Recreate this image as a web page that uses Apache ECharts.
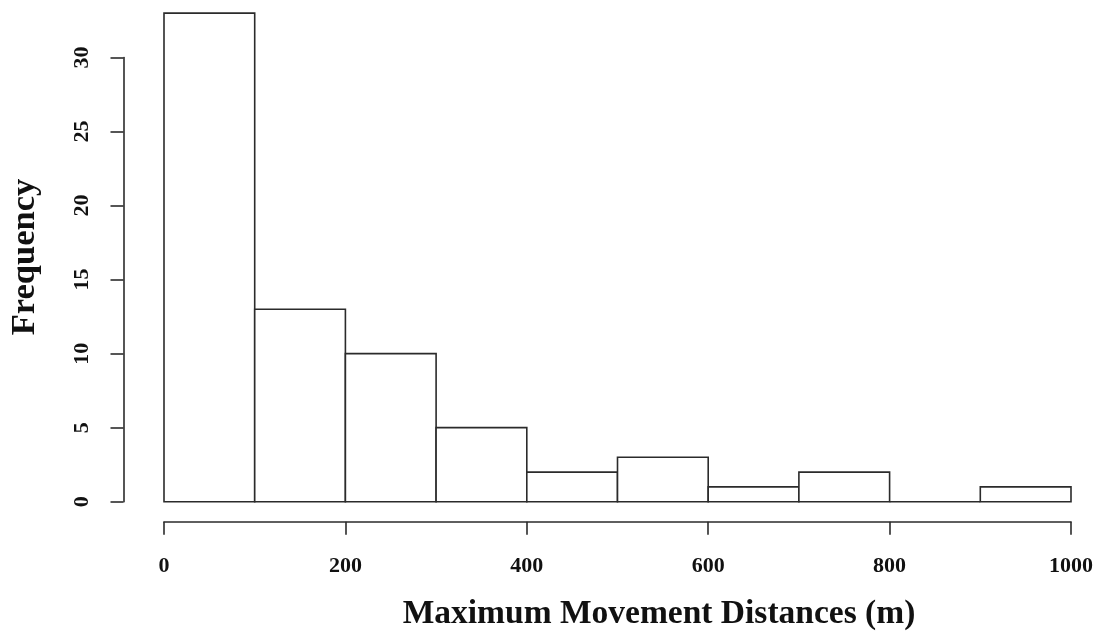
<!DOCTYPE html>
<html>
<head>
    <meta charset="utf-8">
    <script src="https://cdn.jsdelivr.net/npm/echarts@6/dist/echarts.min.js"></script>
</head>
<body style="margin:0">
    <div id="chart" style="width:1097px;height:637px"></div>
<script>
// histogram bins (m) and counts
const binStart = [0, 100, 200, 300, 400, 500, 600, 700, 800, 900];
const binEnd = [100, 200, 300, 400, 500, 600, 700, 800, 900, 1000];
const counts = [33, 13, 10, 5, 2, 3, 1, 2, 0, 1];
const xTitle = 'Maximum Movement Distances (m)';
const yTitle = 'Frequency';

const serif = "'Liberation Serif', 'DejaVu Serif', serif";
const ink = '#2b2b2b';

var data = binStart.map(function (s, i) { return [s, binEnd[i], counts[i]]; });

var option = {
    backgroundColor: '#fff',
    animation: false,
    grid: { left: 164, right: 26, top: 57.5, bottom: 135.3 },
    xAxis: {
        type: 'value',
        min: 0, max: 1000, interval: 200,
        offset: 20,
        splitLine: { show: false },
        axisLine: { show: true, onZero: false, lineStyle: { color: ink, width: 1.6 } },
        axisTick: { show: true, length: 13, lineStyle: { color: ink, width: 1.6 } },
        axisLabel: { margin: 34, fontSize: 22, fontWeight: 'bold', fontFamily: serif, color: '#111',
                     formatter: function (v) { return String(v); } }
    },
    yAxis: {
        type: 'value',
        min: 0, max: 30, interval: 5,
        offset: 40.5,
        splitLine: { show: false },
        axisLine: { show: true, onZero: false, lineStyle: { color: ink, width: 1.6 } },
        axisTick: { show: true, length: 13, lineStyle: { color: ink, width: 1.6 } },
        axisLabel: { rotate: 90, margin: 30, fontSize: 22, fontWeight: 'bold', fontFamily: serif, color: '#111' }
    },
    graphic: [{
        type: 'text', x: 659, y: 614,
        style: { text: xTitle, fontSize: 33.5, fontWeight: 'bold', fontFamily: serif, fill: '#111',
                 textAlign: 'center', textVerticalAlign: 'middle' }
    }, {
        type: 'text', x: 25, y: 257, rotation: Math.PI / 2,
        style: { text: yTitle, fontSize: 34.5, fontWeight: 'bold', fontFamily: serif, fill: '#111',
                 textAlign: 'center', textVerticalAlign: 'middle' }
    }],
    series: [{
        type: 'custom',
        clip: false,
        data: data,
        encode: { x: [0, 1], y: 2 },
        renderItem: function (params, api) {
            var p0 = api.coord([api.value(0), api.value(2)]);
            var p1 = api.coord([api.value(1), 0]);
            return {
                type: 'rect',
                shape: { x: p0[0], y: p0[1], width: p1[0] - p0[0], height: p1[1] - p0[1] },
                style: { fill: '#fff', stroke: ink, lineWidth: 1.6 }
            };
        }
    }]
};

var myChart = echarts.init(document.getElementById('chart'));
myChart.setOption(option);
</script>
</body>
</html>
